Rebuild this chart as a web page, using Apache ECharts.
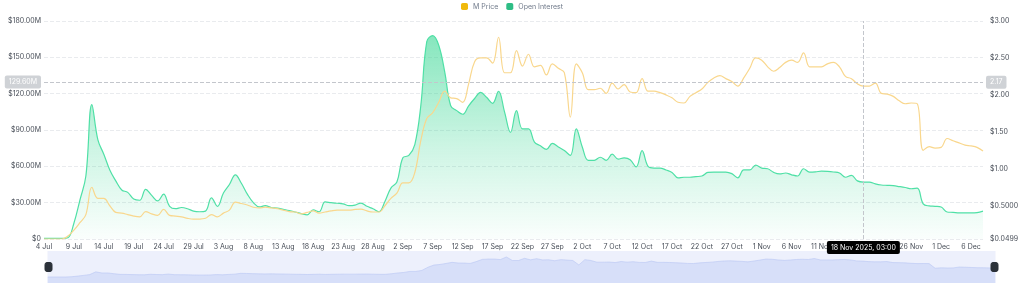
<!DOCTYPE html>
<html>
<head>
<meta charset="utf-8">
<script src="https://cdn.jsdelivr.net/npm/echarts@6/dist/echarts.min.js"></script>
<style>
html,body{margin:0;padding:0;background:#fff;}
#chart{width:1024px;height:300px;}
</style>
</head>
<body>
<div id="chart"></div>
<script>
// ---- data ----
const startDate = '2025-07-04';
const dayCount = 158;
const months = ['Jan','Feb','Mar','Apr','May','Jun','Jul','Aug','Sep','Oct','Nov','Dec'];
const categories = [];
(function(){
  const d0 = new Date(startDate + 'T00:00:00Z');
  for (let i = 0; i < dayCount; i++) {
    const d = new Date(d0.getTime() + i * 86400000);
    categories.push(d.getUTCDate() + ' ' + months[d.getUTCMonth()]);
  }
})();

// Open Interest, millions of USD
const openInterest = [
  0.5,0.5,0.5,0.5,1,13,32,52,111,82,
  70,57,48,40.5,38.5,33,32,41,36,31.5,
  37,27,25,26,25,23,22.5,23,34,27,
  38,45,53,46,37,30,26.5,27.5,26,
  25.5,24.5,23.5,22.3,21,20,24,22.5,30.6,30,
  29.5,29,27.5,28,29.7,27,25,22.5,31,42,
  47,67,69,78,110,163,168,160,138,110,
  106,103,110,116,121,117,112,122,105,88,
  106,91,91,80,77,74,79,76,73,69,
  91,76,65,65,67.5,65,70,66,67,65.5,
  59.5,73,60,58.6,58.6,57,55,50.5,51,51,
  51.5,52,55,55.3,55.3,55.3,54,50.5,57,57,
  61,58.5,58,55,53.7,54.5,53,52,58,55.3,
  55.5,56,55.8,55.3,54.5,51,52.5,48,47,47,
  45.5,44.6,44.3,44,43.3,42.5,41.5,42,29,27.3,
  27,26.4,22.3,22,21.5,21.5,21.5,21.8,23
];

// M Price, USD
const mPrice = [
  0.05,0.05,0.05,0.05,0.09,0.17,0.27,0.38,0.75,0.6,
  0.6,0.5,0.41,0.4,0.38,0.36,0.35,0.42,0.39,0.37,
  0.45,0.37,0.36,0.35,0.33,0.32,0.32,0.33,0.38,0.35,
  0.4,0.44,0.55,0.53,0.51,0.48,0.47,0.48,0.47,
  0.46,0.44,0.42,0.415,0.39,0.41,0.43,0.4,0.415,0.43,
  0.44,0.44,0.44,0.45,0.455,0.43,0.415,0.415,0.5,0.6,
  0.67,0.81,0.81,0.95,1.38,1.68,1.76,1.9,2.05,1.96,
  1.95,1.9,2.15,2.45,2.5,2.5,2.43,2.78,2.3,2.3,
  2.6,2.39,2.55,2.38,2.4,2.27,2.42,2.36,2.3,1.7,
  2.42,2.3,2.07,2.07,2.09,2.02,2.16,2.08,2.14,2.04,
  2.03,2.22,2.05,2.05,2.03,2.0,1.96,1.9,1.89,1.98,
  2.03,2.08,2.17,2.23,2.26,2.22,2.18,2.12,2.23,2.36,
  2.5,2.47,2.38,2.32,2.37,2.44,2.47,2.44,2.57,2.38,
  2.38,2.38,2.42,2.44,2.38,2.25,2.22,2.15,2.12,2.12,
  2.16,2.02,2.01,1.98,1.92,1.88,1.89,1.88,1.25,1.3,
  1.28,1.29,1.41,1.38,1.35,1.32,1.31,1.29,1.24
];

const rightTicks = [0.0499, 0.5, 1, 1.5, 2, 2.5, 3];
const pointerIndex = 137;          // 18 Nov
const pointerTime = '2025, 03:00';
const pointerOI = 129.6e6;
const pointerPrice = 2.17;

const oiUSD = openInterest.map(v => v * 1e6);

const FONT = 'Inter, "Noto Sans", sans-serif';
const chart = echarts.init(document.getElementById('chart'), null, {renderer: 'canvas'});

const greyLabel = {
  show: true, backgroundColor: '#cfd2d6', color: '#fff', fontSize: 7,
  fontFamily: FONT, padding: [3, 4, 3, 4], borderRadius: 2
};

function catName(v) {
  if (typeof v === 'number') return categories[Math.round(v)];
  const n = Number(v);
  if (!isNaN(n) && String(v).trim() !== '') return categories[Math.round(n)];
  return v;
}

chart.setOption({
  animation: false,
  textStyle: {fontFamily: FONT},
  legend: {
    top: -2, left: 'center', itemWidth: 7, itemHeight: 7, itemGap: 8,
    icon: 'roundRect',
    textStyle: {fontSize: 7, color: '#707a8a', fontFamily: FONT},
    data: ['M Price', 'Open Interest']
  },
  grid: {left: 44, right: 41, top: 21, bottom: 61, containLabel: false},
  xAxis: {
    type: 'category', data: categories, boundaryGap: false,
    axisLine: {show: false}, axisTick: {show: false},
    axisLabel: {interval: 4, fontSize: 7, color: '#474d57', margin: 4, fontFamily: FONT, hideOverlap: false},
    splitLine: {show: false},
    axisPointer: {
      show: true, status: 'show', value: pointerIndex, snap: false, type: 'line',
      lineStyle: {color: '#c3c6cc', type: 'dashed', width: 1},
      label: {
        show: true, backgroundColor: '#000', color: '#fff', fontSize: 7, fontFamily: FONT,
        padding: [3, 4, 3, 4], borderRadius: 2, margin: 2,
        formatter: p => catName(p.value) + ' ' + pointerTime
      }
    }
  },
  yAxis: [
    {
      type: 'value', min: 0, max: 180e6, interval: 30e6, position: 'left',
      axisLine: {show: false}, axisTick: {show: false},
      axisLabel: {fontSize: 7, color: '#474d57', margin: 3, fontFamily: FONT,
        formatter: v => v === 0 ? '$0' : '$' + (v / 1e6).toFixed(2) + 'M'},
      splitLine: {show: true, lineStyle: {color: '#e9ebee', type: 'dashed', width: 1}},
      axisPointer: {
        show: true, status: 'show', value: pointerOI, snap: false, type: 'line',
        lineStyle: {color: '#c3c6cc', type: 'dashed', width: 1},
        label: Object.assign({}, greyLabel, {formatter: p => (p.value / 1e6).toFixed(2) + 'M'})
      }
    },
    {
      type: 'value', min: 0.0499, max: 3, position: 'right',
      axisLine: {show: false}, axisTick: {show: false, customValues: rightTicks},
      axisLabel: {fontSize: 7, color: '#474d57', margin: 7, fontFamily: FONT,
        customValues: rightTicks,
        formatter: v => v < 1 ? '$' + v.toFixed(4) : '$' + v.toFixed(2)},
      splitLine: {show: false},
      axisPointer: {
        show: true, status: 'show', value: pointerPrice, snap: false, type: 'line',
        lineStyle: {color: '#c3c6cc', type: 'dashed', width: 1},
        label: Object.assign({}, greyLabel, {formatter: p => Number(p.value).toFixed(2)})
      }
    }
  ],
  dataZoom: [{
    type: 'slider', xAxisIndex: 0, start: 0, end: 100,
    left: 45, right: 31, bottom: 17, height: 32,
    showDetail: false, brushSelect: false, moveHandleSize: 0,
    backgroundColor: '#edf0fc', borderColor: 'transparent', fillerColor: 'rgba(0,0,0,0)',
    handleIcon: 'path://M2,0 L5,0 Q7,0 7,2 L7,7 Q7,9 5,9 L2,9 Q0,9 0,7 L0,2 Q0,0 2,0 Z',
    handleSize: 9,
    handleStyle: {color: '#2b3139', borderColor: '#2b3139'},
    dataBackground: {lineStyle: {color: '#b9c6f3', width: 0.6, opacity: 1}, areaStyle: {color: '#d7dff9', opacity: 1}},
    selectedDataBackground: {lineStyle: {color: '#b9c6f3', width: 0.6, opacity: 1}, areaStyle: {color: '#d7dff9', opacity: 1}}
  }],
  series: [
    {
      name: 'M Price', type: 'line', yAxisIndex: 1, data: mPrice,
      showSymbol: false, symbol: 'none', smooth: 0.4,
      itemStyle: {color: '#f0b90b'},
      lineStyle: {color: '#f9d78d', width: 1.2},
      z: 3
    },
    {
      name: 'Open Interest', type: 'line', yAxisIndex: 0, data: oiUSD,
      showSymbol: false, symbol: 'none', smooth: 0.4,
      itemStyle: {color: '#2ebd85'},
      lineStyle: {color: '#4fe0a6', width: 1.2},
      areaStyle: {
        color: new echarts.graphic.LinearGradient(0, 0, 0, 1, [
          {offset: 0, color: 'rgba(52,214,145,0.85)'},
          {offset: 0.55, color: 'rgba(52,214,145,0.35)'},
          {offset: 1, color: 'rgba(52,214,145,0.03)'}
        ])
      },
      z: 2
    }
  ]
});
</script>
</body>
</html>
